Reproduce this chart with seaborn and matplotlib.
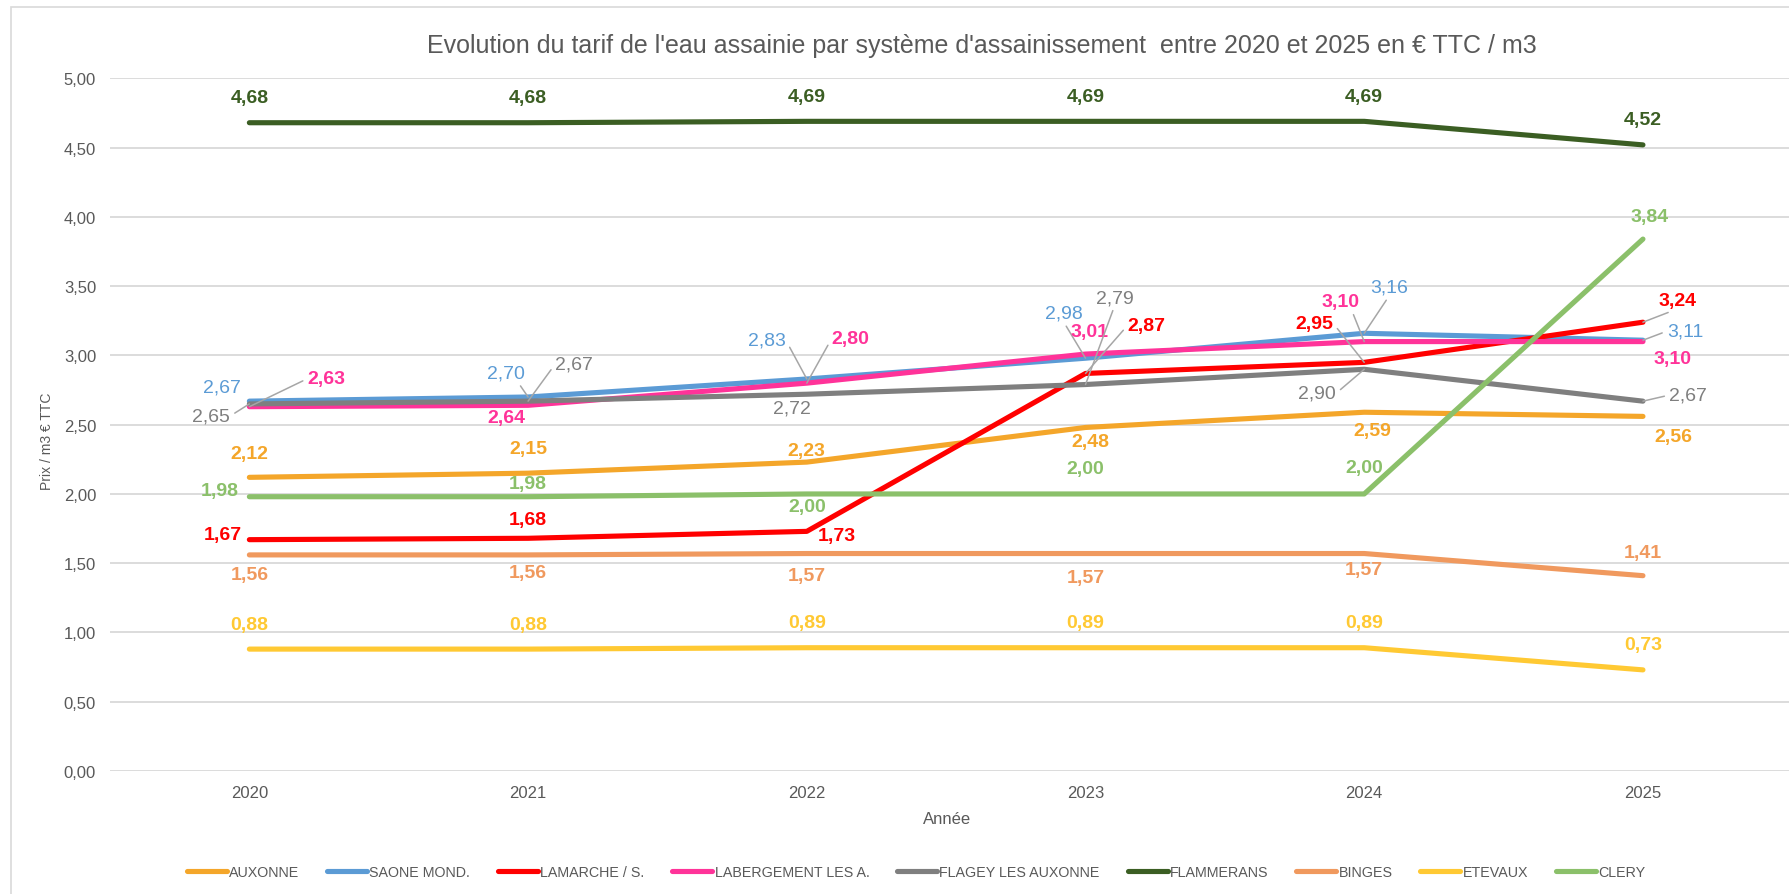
import matplotlib
matplotlib.use('Agg')
import matplotlib.pyplot as plt
from matplotlib.lines import Line2D
from matplotlib.patches import Rectangle
import seaborn as sns
import pandas as pd

# ============ 数据 ============

years = [2020, 2021, 2022, 2023, 2024, 2025]

auxonne = [2.12, 2.15, 2.23, 2.48, 2.59, 2.56]
saone_mond = [2.67, 2.70, 2.83, 2.98, 3.16, 3.11]
lamarche = [1.67, 1.68, 1.73, 2.87, 2.95, 3.24]
labergement = [2.63, 2.64, 2.80, 3.01, 3.10, 3.10]
flagey = [2.65, 2.67, 2.72, 2.79, 2.90, 2.67]
flammerans = [4.68, 4.68, 4.69, 4.69, 4.69, 4.52]
binges = [1.56, 1.56, 1.57, 1.57, 1.57, 1.41]
etevaux = [0.88, 0.88, 0.89, 0.89, 0.89, 0.73]
clery = [1.98, 1.98, 2.00, 2.00, 2.00, 3.84]

series_names = ['AUXONNE', 'SAONE MOND.', 'LAMARCHE / S.', 'LABERGEMENT LES A.',
                'FLAGEY LES AUXONNE', 'FLAMMERANS', 'BINGES', 'ETEVAUX', 'CLERY']
series_values = [auxonne, saone_mond, lamarche, labergement, flagey,
                 flammerans, binges, etevaux, clery]

# ============ 样式 ============

COLORS = ['#F4A62A', '#5B9BD5', '#FF0000', '#FF3399', '#7F7F7F',
          '#3B5E23', '#F0995E', '#FFC933', '#8BC06A']
BOLD = [True, False, True, True, False, True, True, True, True]
TEXT_GREY = '#595959'
GRID_GREY = '#D9D9D9'
LEADER_GREY = '#A6A6A6'

# 标签偏移 (像素, dx, dy, 引线起点)
OFFSETS = {
    'AUXONNE': [(0, 24, None), (0, 25, None), (0, 12, None), (5, -14, None),
                (8, -18, None), (30, -20, None)],
    'SAONE MOND.': [(-27, 14, None), (-22, 24, (0.8, 0)), (-40, 39, (1, 0.5)),
                    (-22, 45, (0.5, 0)), (25, 46, (0.5, 0)), (42, 9, (0, 0.5))],
    'LAMARCHE / S.': [(-27, 5, None), (0, 19, None), (30, -4, None),
                      (61, 48, (0, 0.5)), (-50, 39, (1, 0.5)), (35, 22, (0.5, 0))],
    'LABERGEMENT LES A.': [(77, 28, (0, 0.5)), (-22, -12, None), (44, 45, (0, 0.5)),
                           (4, 23, None), (-24, 40, (0.8, 0)), (30, -17, None)],
    'FLAGEY LES AUXONNE': [(-38, -12, (1, 0.5)), (46, 37, (0, 0.5)), (-15, -14, None),
                           (29, 87, (0.5, 0)), (-47, -24, (1, 0.5)), (45, 6, (0, 0.5))],
    'FLAMMERANS': [(0, 25, None)] * 6,
    'BINGES': [(0, -20, None), (0, -18, None), (0, -22, None), (0, -24, None),
               (0, -16, None), (0, 23, None)],
    'ETEVAUX': [(0, 25, None)] * 6,
    'CLERY': [(-30, 6, None), (0, 13, None), (0, -13, None), (0, 25, None),
              (0, 26, None), (7, 23, None)],
}

sns.set_style('white')
plt.rcParams['font.family'] = ['Liberation Sans', 'DejaVu Sans']


def fmt(v):
    return f'{v:.2f}'.replace('.', ',')


df = pd.DataFrame({
    'Année': years * len(series_names),
    'Prix': [v for vals in series_values for v in vals],
    'Système': [n for n in series_names for _ in years],
})

fig = plt.figure(figsize=(17.89, 8.95), dpi=100)
ax = fig.add_axes([110 / 1789, 1 - 772 / 895, 1679 / 1789, 692.6 / 895])

sns.lineplot(data=df, x='Année', y='Prix', hue='Système', hue_order=series_names,
             palette=COLORS, linewidth=3.7, sort=False, legend=False, ax=ax)

ax.set_xlim(2019.5, 2025.524)
ax.set_ylim(0, 5)
ax.set_xticks(years)
ax.set_yticks([i * 0.5 for i in range(11)])
ax.set_yticklabels([fmt(i * 0.5) for i in range(11)])
ax.tick_params(axis='both', length=0, labelsize=12, labelcolor=TEXT_GREY)
ax.tick_params(axis='y', pad=10)
ax.tick_params(axis='x', pad=10)
ax.set_xlabel('')
ax.set_ylabel('')
ax.yaxis.grid(True, color=GRID_GREY, linewidth=1.3)
ax.xaxis.grid(False)
ax.set_axisbelow(True)
for side in ['top', 'right', 'left', 'bottom']:
    ax.spines[side].set_visible(False)

# 数据标签
for name, vals, color, bold in zip(series_names, series_values, COLORS, BOLD):
    for yr, v, (dx, dy, rel) in zip(years, vals, OFFSETS[name]):
        arrow = None
        if rel is not None:
            arrow = dict(arrowstyle='-', color=LEADER_GREY, lw=1.1,
                         shrinkA=1, shrinkB=0, relpos=rel)
        ax.annotate(fmt(v), xy=(yr, v), xytext=(dx, dy), textcoords='offset pixels',
                    ha='center', va='center', fontsize=14, color=color,
                    fontweight='bold' if bold else 'normal', arrowprops=arrow,
                    zorder=5)

fig.text(982 / 1789, 1 - 46 / 895,
         "Evolution du tarif de l'eau assainie par système d'assainissement  entre 2020 et 2025 en € TTC / m3",
         ha='center', va='center', fontsize=18, color=TEXT_GREY)
fig.text(947 / 1789, 1 - 820 / 895, 'Année', ha='center', va='center',
         fontsize=12, color=TEXT_GREY)
fig.text(47 / 1789, 1 - 441 / 895, 'Prix / m3 € TTC', ha='center', va='center',
         rotation=90, fontsize=10, color=TEXT_GREY)

handles = [Line2D([0], [0], color=c, linewidth=3.7) for c in COLORS]
fig.legend(handles, series_names, loc='center', bbox_to_anchor=(916 / 1789, 1 - 873 / 895),
           ncol=9, frameon=False, fontsize=10.3, handlelength=2.8, handletextpad=0.15,
           columnspacing=1.95, labelcolor=TEXT_GREY)

# 图表边框
fig.add_artist(Rectangle((11 / 1789, -0.05), 1.2, 1 - 8 / 895 + 0.05,
                         transform=fig.transFigure, fill=False,
                         edgecolor=GRID_GREY, linewidth=1.2))

fig.savefig('out.png', dpi=100)
